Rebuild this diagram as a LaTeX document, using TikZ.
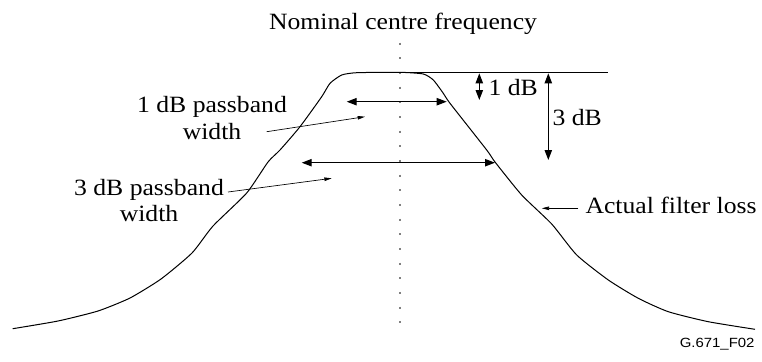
\documentclass[tikz,border=0pt]{standalone}
\usepackage{graphicx}
\usepackage{fontspec}
\setmainfont{Liberation Serif}
\newfontfamily\figfont{Liberation Sans}
\usetikzlibrary{arrows.meta}
\tikzset{every picture/.style={line width=0.75pt}}
\newcommand{\wide}[1]{\scalebox{1.1}[1]{#1}}
\tikzset{
  lbl/.style={inner sep=0pt, font=\fontsize{17.5}{19.7}\selectfont},
  dblarrow/.style={{Triangle[length=7.5pt,width=5.5pt]}-{Triangle[length=7.5pt,width=5.5pt]}, line width=0.9pt},
  leader/.style={-{Triangle[length=5.5pt,width=2.6pt]}, line width=0.5pt},
  centreline/.style={color=gray, line width=1.4pt, dash pattern=on 1.5pt off 9.5pt},
}

\begin{document}
\begin{tikzpicture}[x=0.75pt,y=0.75pt,yscale=-1,xscale=1]
\useasboundingbox (0,0) rectangle (762,361);

%Dotted centre line
\coordinate (ctop) at (400,42.5);
\coordinate (cbot) at (400,323.5);
\draw [centreline] (ctop) -- (cbot) ;

%Curve: actual filter loss
\draw [line width=0.75pt] plot [smooth, tension=0.35] coordinates {
  (12.7,328.7) (58,321) (98,311) (130,298) (161,279) (192,253) (213,226)
  (246.7,193) (268,162) (280,150) (300,126.7) (321.7,96.7) (330,83.3)
  (341.7,75) (356.7,72.7) (400,72.3) (423.3,74) (433.3,80) (443.3,93.3)
  (450,103.3) (486.7,150) (495,162) (521.7,195) (551.7,224) (576.7,255)
  (608.3,280) (638.3,298.3) (668.3,311.7) (708.3,321.7) (755,329.3) };

%Straight Lines: reference level
\coordinate (reftop) at (400,72);
\coordinate (refend) at (608,72);
\draw [line width=0.6pt] (reftop) -- (refend) ;

%Passband width arrows
\coordinate (p1l) at (346.7,101.7);
\coordinate (p1r) at (446.7,101.7);
\draw [dblarrow] (p1l) -- (p1r) ;
\coordinate (p3l) at (301.7,162.7);
\coordinate (p3r) at (495,162.7);
\draw [dblarrow] (p3l) -- (p3r) ;

%Level arrows
\coordinate (d1t) at (479.3,73.3);
\coordinate (d1b) at (479.3,100);
\draw [dblarrow] (d1t) -- (d1b) ;
\coordinate (d3t) at (548.3,73.3);
\coordinate (d3b) at (548.3,160);
\draw [dblarrow] (d3t) -- (d3b) ;

% Text Node
\node (nominal) at (403,29) [lbl, anchor=base] {\wide{Nominal centre frequency}};
% Text Node
\node (db1) at (488,95) [lbl, anchor=base west] {\wide{1 dB}};
% Text Node
\node (db3) at (552,125) [lbl, anchor=base west] {\wide{3 dB}};
% Text Node
\node (pb1) at (212,139) [lbl, anchor=base, align=center] {\wide{1 dB passband}\\\wide{width}};
% Text Node
\node (pb3) at (149,221.5) [lbl, anchor=base, align=center] {\wide{3 dB passband}\\\wide{width}};
% Text Node
\node (loss) at (585,213.3) [lbl, anchor=base west] {\wide{Actual filter loss}};
% Text Node
\node (fig) at (755,347.7) [inner sep=0pt, anchor=base east, font=\figfont\fontsize{10}{12}\selectfont] {\scalebox{1.12}[1]{G.671\_F02}};

%Leaders
\coordinate (l1s) at (266.7,131.7);
\coordinate (l1t) at (365,116.7);
\draw [leader] (l1s) -- (l1t) ;
\coordinate (l3s) at (228,192);
\coordinate (l3t) at (331.7,178.3);
\draw [leader] (l3s) -- (l3t) ;
\coordinate (lls) at (578.3,208.3);
\coordinate (llt) at (541.7,208.3);
\draw [leader] (lls) -- (llt) ;

\end{tikzpicture}
\end{document}
